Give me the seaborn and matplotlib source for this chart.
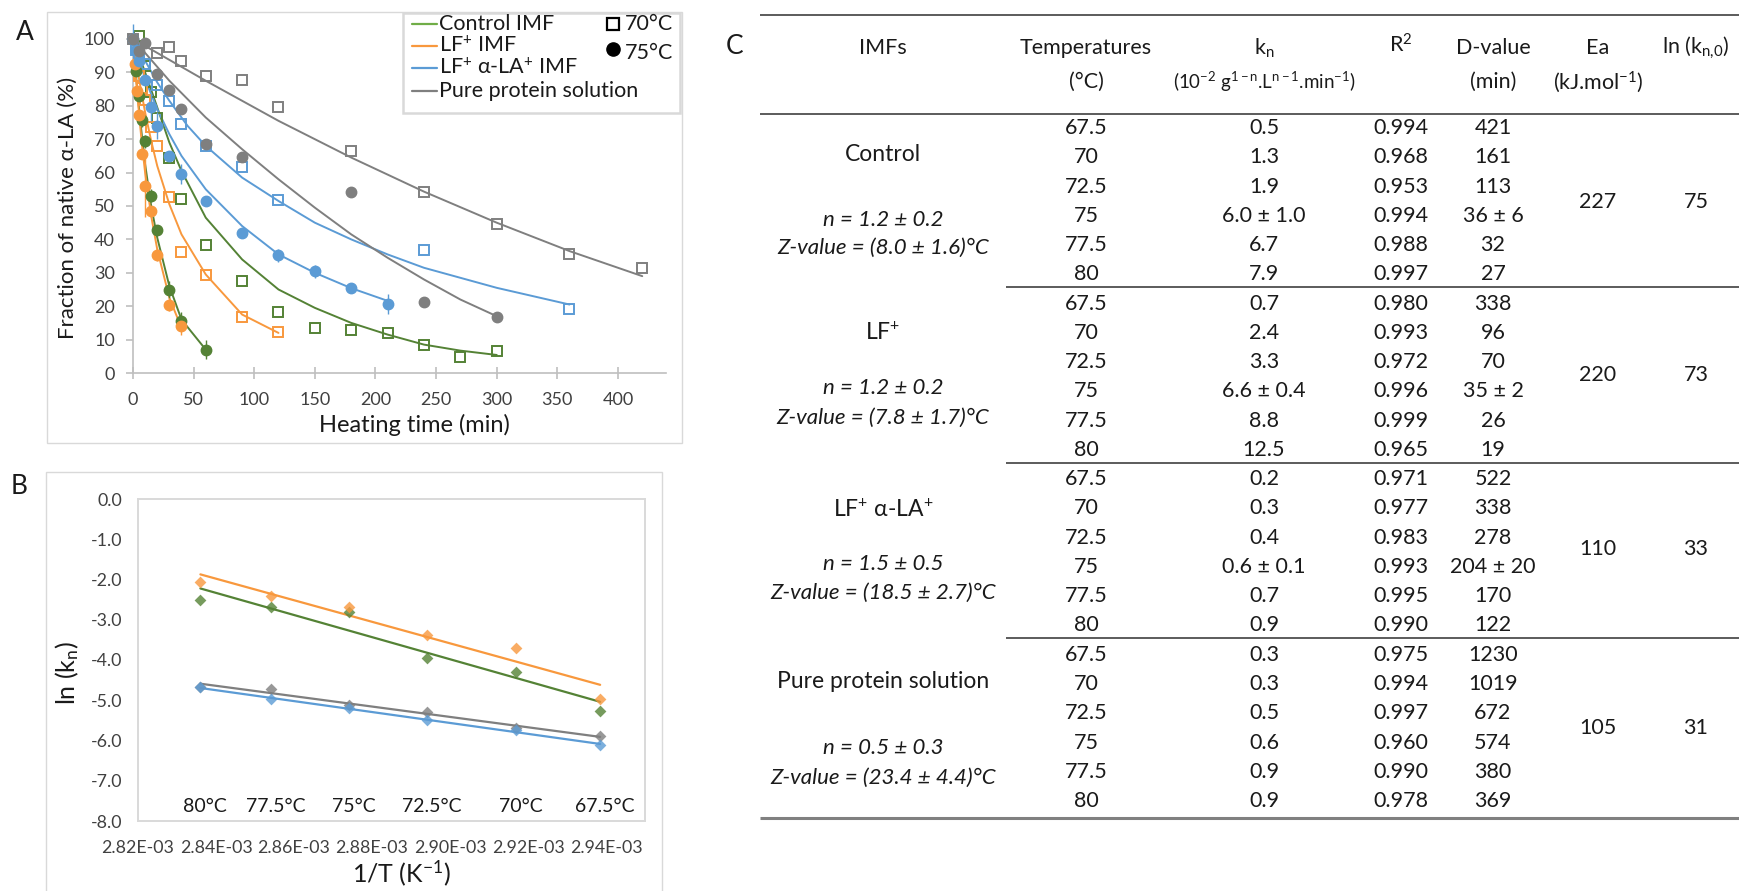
import numpy as np
import pandas as pd
import matplotlib
matplotlib.use("Agg")
import matplotlib.pyplot as plt
from matplotlib.lines import Line2D
from matplotlib.patches import Rectangle
from matplotlib.ticker import FixedLocator, FuncFormatter
import seaborn as sns

# ---------------- Panel A: native alpha-lactalbumin vs heating time ----------------
series_names = ["Control IMF", r"LF$^{\mathrm{+}}$ IMF", r"LF$^{\mathrm{+}}$ α-LA$^{\mathrm{+}}$ IMF",
                "Pure protein solution"]

# 70 °C measurements (open squares)
t_ctrl_70 = [5, 10, 15, 20, 30, 40, 60, 90, 120, 150, 180, 210, 240, 270, 300]
v_ctrl_70 = [101, 92, 84, 76.3, 64.4, 52.1, 38.2, 27.4, 18.3, 13.5, 12.8, 11.9, 8.4, 4.8, 6.6]
t_lf_70 = [5, 7.5, 10, 15, 20, 30, 40, 60, 90, 120]
v_lf_70 = [88.8, 85.3, 81.6, 73.6, 68.1, 52.6, 36.2, 29.2, 16.8, 12.2]
t_lfla_70 = [2.5, 5, 10, 20, 30, 40, 60, 90, 120, 240, 360]
v_lfla_70 = [96.8, 95, 92.6, 86.3, 81.3, 74.5, 67.9, 61.6, 51.9, 36.8, 19.1]
t_pure_70 = [0, 20, 30, 40, 60, 90, 120, 180, 240, 300, 360, 420]
v_pure_70 = [100, 95.8, 97.5, 93.5, 89.0, 87.7, 79.6, 66.6, 54.2, 44.6, 35.6, 31.4]

# 75 °C measurements (filled circles) with standard deviations
t_ctrl_75 = [2.5, 5, 7.5, 10, 15, 20, 30, 40, 60]
v_ctrl_75 = [90.3, 82.8, 75.8, 69.4, 53.1, 42.7, 25.0, 15.7, 7.0]
e_ctrl_75 = [1.0, 1.0, 2.0, 2.0, 2.0, 1.5, 2.5, 2.5, 2.8]
t_lf_75 = [1.5, 3, 5, 7.5, 10, 15, 20, 30, 40]
v_lf_75 = [92.6, 84.3, 77.3, 65.7, 56.1, 48.4, 35.4, 20.5, 14.0]
e_lf_75 = [1.0, 1.0, 1.0, 1.0, 9.3, 1.0, 2.0, 2.0, 2.5]
t_lfla_75 = [0, 2.5, 5, 10, 15, 20, 30, 40, 60, 90, 120, 150, 180, 210]
v_lfla_75 = [100, 96.7, 93.3, 87.8, 79.5, 74.1, 65.1, 59.6, 51.6, 41.9, 35.2, 30.4, 25.5, 20.7]
e_lfla_75 = [4.5, 2.0, 1.0, 1.5, 4.0, 4.0, 1.5, 3.0, 1.0, 1.0, 2.0, 2.0, 1.5, 3.0]
t_pure_75 = [0, 5, 10, 20, 30, 40, 60, 90, 180, 240, 300]
v_pure_75 = [100, 96.5, 98.8, 89.6, 84.8, 79.1, 68.5, 64.6, 54.1, 21.3, 16.8]
e_pure_75 = [0.5, 0.5, 0.5, 0.5, 0.5, 0.5, 0.5, 0.5, 0.5, 0.5, 0.5]

# Fitted nth-order inactivation curves
fit_t_ctrl_70 = [0, 10, 20, 30, 40, 60, 90, 120, 150, 180, 210, 240, 270, 300]
fit_v_ctrl_70 = [100, 90, 79.5, 69, 60.5, 46.5, 34, 25, 19.5, 15, 11.5, 8.5, 6.7, 5.4]
fit_t_ctrl_75 = [0, 2.5, 5, 7.5, 10, 15, 20, 30, 40, 60]
fit_v_ctrl_75 = [100, 89, 79, 70.5, 62.5, 50, 40.5, 26, 16, 7]
fit_t_lf_70 = [0, 5, 10, 15, 20, 30, 40, 60, 90, 120]
fit_v_lf_70 = [100, 88, 78, 69.5, 62, 50.5, 41.5, 29.5, 17.5, 12]
fit_t_lf_75 = [0, 2.5, 5, 7.5, 10, 15, 20, 30, 40]
fit_v_lf_75 = [100, 88, 77.5, 68, 60, 47, 37, 22.5, 13.5]
fit_t_lfla_70 = [0, 10, 20, 30, 45, 60, 90, 120, 150, 180, 210, 240, 300, 360]
fit_v_lfla_70 = [100, 93.5, 87, 81.5, 74, 68, 58.5, 51.5, 45, 40, 35.5, 31.5, 25.5, 20.5]
fit_t_lfla_75 = [0, 10, 20, 30, 40, 60, 90, 120, 150, 180, 210]
fit_v_lfla_75 = [100, 88, 79, 71.5, 65, 55, 44, 35.5, 30, 25.4, 21.6]
fit_t_pure_70 = [0, 60, 120, 180, 240, 300, 360, 420]
fit_v_pure_70 = [100, 87.5, 75.5, 64.5, 54.3, 45, 36.5, 29]
fit_t_pure_75 = [0, 30, 60, 90, 120, 150, 180, 210, 240, 270, 300]
fit_v_pure_75 = [100, 87.5, 76.5, 67, 58, 49.5, 41.5, 34.5, 28, 22, 17]

time_ticks = [0, 50, 100, 150, 200, 250, 300, 350, 400]
frac_ticks = [0, 10, 20, 30, 40, 50, 60, 70, 80, 90, 100]

# ---------------- Panel B: Arrhenius plot ----------------
temp_labels = ["80°C", "77.5°C", "75°C", "72.5°C", "70°C", "67.5°C"]
inv_T = [2.836e-3, 2.854e-3, 2.874e-3, 2.894e-3, 2.917e-3, 2.9385e-3]
ln_k_ctrl = [-2.52, -2.68, -2.80, -3.95, -4.30, -5.26]
ln_k_lf = [-2.05, -2.40, -2.69, -3.38, -3.71, -4.97]
ln_k_lfla = [-4.68, -4.98, -5.19, -5.50, -5.74, -6.12]
ln_k_pure = [-4.67, -4.71, -5.11, -5.29, -5.69, -5.90]
invT_ticks = [2.82e-3, 2.84e-3, 2.86e-3, 2.88e-3, 2.90e-3, 2.92e-3, 2.94e-3]
lnk_ticks = [0, -1, -2, -3, -4, -5, -6, -7, -8]

# ---------------- Panel C: kinetic parameters table ----------------
imf_groups = ["Control", r"LF$^{\mathrm{+}}$", r"LF$^{\mathrm{+}}$ α-LA$^{\mathrm{+}}$",
              "Pure protein solution"]
order_n = ["n = 1.2 ± 0.2", "n = 1.2 ± 0.2", "n = 1.5 ± 0.5", "n = 0.5 ± 0.3"]
z_values = ["Z-value = (8.0 ± 1.6)°C", "Z-value = (7.8 ± 1.7)°C",
            "Z-value = (18.5 ± 2.7)°C", "Z-value = (23.4 ± 4.4)°C"]
temps_c = ["67.5", "70", "72.5", "75", "77.5", "80"]
kn_ctrl = ["0.5", "1.3", "1.9", "6.0 ± 1.0", "6.7", "7.9"]
kn_lf = ["0.7", "2.4", "3.3", "6.6 ± 0.4", "8.8", "12.5"]
kn_lfla = ["0.2", "0.3", "0.4", "0.6 ± 0.1", "0.7", "0.9"]
kn_pure = ["0.3", "0.3", "0.5", "0.6", "0.9", "0.9"]
r2_ctrl = ["0.994", "0.968", "0.953", "0.994", "0.988", "0.997"]
r2_lf = ["0.980", "0.993", "0.972", "0.996", "0.999", "0.965"]
r2_lfla = ["0.971", "0.977", "0.983", "0.993", "0.995", "0.990"]
r2_pure = ["0.975", "0.994", "0.997", "0.960", "0.990", "0.978"]
d_ctrl = ["421", "161", "113", "36 ± 6", "32", "27"]
d_lf = ["338", "96", "70", "35 ± 2", "26", "19"]
d_lfla = ["522", "338", "278", "204 ± 20", "170", "122"]
d_pure = ["1230", "1019", "672", "574", "380", "369"]
ea_values = ["227", "220", "110", "105"]
ln_k0_values = ["75", "73", "33", "31"]

# ---------------- styling ----------------
sns.set_theme(style="white")
plt.rcParams["font.family"] = ["Lato", "DejaVu Sans"]
plt.rcParams["font.weight"] = "normal"
plt.rcParams["mathtext.fontset"] = "custom"
plt.rcParams["mathtext.rm"] = "Lato"
plt.rcParams["mathtext.it"] = "Lato:italic"
plt.rcParams["axes.unicode_minus"] = False
plt.rcParams["text.color"] = "#1a1a1a"

GREEN, GREEN_LEG = "#548235", "#70AD47"
ORANGE = "#F8983D"
BLUE = "#5B9BD5"
GRAY = "#7F7F7F"
AXIS_GRAY = "#BFBFBF"
FRAME_GRAY = "#D9D9D9"
TICK_TXT = "#404040"
TXT = "#1a1a1a"

W, H = 1740, 891
fig = plt.figure(figsize=(W / 100, H / 100), dpi=100)
fig.patch.set_facecolor("white")


def fx(x):
    return x / W


def fy(y):
    return 1 - y / H


def rect(l, t, r, b):
    return [l / W, 1 - b / H, (r - l) / W, (b - t) / H]


# panel frames
fig.add_artist(Rectangle((fx(47), fy(443)), (682 - 47) / W, (443 - 12) / H,
                         transform=fig.transFigure, fill=False, ec=FRAME_GRAY, lw=1))
fig.add_artist(Rectangle((fx(46), fy(905)), (662 - 46) / W, (905 - 472) / H,
                         transform=fig.transFigure, fill=False, ec=FRAME_GRAY, lw=1))

# ================= Panel A =================
axA = fig.add_axes(rect(133, 39, 133 + 440 * 1.2125, 373))
fits = [
    ("ctrl70", fit_t_ctrl_70, fit_v_ctrl_70, GREEN),
    ("ctrl75", fit_t_ctrl_75, fit_v_ctrl_75, GREEN),
    ("lf70", fit_t_lf_70, fit_v_lf_70, ORANGE),
    ("lf75", fit_t_lf_75, fit_v_lf_75, ORANGE),
    ("lfla70", fit_t_lfla_70, fit_v_lfla_70, BLUE),
    ("lfla75", fit_t_lfla_75, fit_v_lfla_75, BLUE),
    ("pure70", fit_t_pure_70, fit_v_pure_70, GRAY),
    ("pure75", fit_t_pure_75, fit_v_pure_75, GRAY),
]
fit_df = pd.concat([pd.DataFrame({"t": t, "v": v, "curve": name}) for name, t, v, _ in fits],
                   ignore_index=True)
sns.lineplot(data=fit_df, x="t", y="v", hue="curve",
             palette={name: c for name, _, _, c in fits},
             estimator=None, sort=False, legend=False, lw=1.4, ax=axA)

squares = [(t_ctrl_70, v_ctrl_70, GREEN), (t_lf_70, v_lf_70, ORANGE),
           (t_lfla_70, v_lfla_70, BLUE), (t_pure_70, v_pure_70, GRAY)]
circles = [(t_ctrl_75, v_ctrl_75, e_ctrl_75, GREEN), (t_lf_75, v_lf_75, e_lf_75, ORANGE),
           (t_lfla_75, v_lfla_75, e_lfla_75, BLUE), (t_pure_75, v_pure_75, e_pure_75, GRAY)]
for t, v, c in squares:
    axA.plot(t, v, ls="none", marker="s", ms=7, mfc="none", mec=c, mew=1.4,
             zorder=4, clip_on=False)
for t, v, e, c in circles:
    axA.errorbar(t, v, yerr=e, fmt="o", ms=7.5, color=c, ecolor=c, elinewidth=1,
                 capsize=0, zorder=5, clip_on=False)

axA.set_xlim(0, 440)
axA.set_ylim(0, 100)
axA.xaxis.set_major_locator(FixedLocator(time_ticks))
axA.yaxis.set_major_locator(FixedLocator(frac_ticks))
axA.xaxis.set_major_formatter(FuncFormatter(lambda v, p: f"{v:.0f}"))
axA.yaxis.set_major_formatter(FuncFormatter(lambda v, p: f"{v:.0f}"))
for s in ["top", "right"]:
    axA.spines[s].set_visible(False)
for s in ["left", "bottom"]:
    axA.spines[s].set_color(AXIS_GRAY)
    axA.spines[s].set_linewidth(1.2)
axA.tick_params(axis="x", direction="inout", length=9, width=1.2, color=AXIS_GRAY,
                labelsize=13, labelcolor=TICK_TXT, pad=9, bottom=True)
axA.tick_params(axis="y", direction="out", length=5, width=1.2, color=AXIS_GRAY,
                labelsize=13, labelcolor=TICK_TXT, pad=8, left=True)
axA.set_xlabel("")
axA.set_ylabel("")
fig.text(fx(68), fy(208), "Fraction of native α-LA (%)", rotation=90,
         ha="center", va="center", fontsize=16)
fig.text(fx(414), fy(425), "Heating time (min)", ha="center", va="center", fontsize=17)
fig.text(fx(25), fy(32), "A", ha="center", va="center", fontsize=19)

# legend of panel A
fig.add_artist(Rectangle((fx(403), fy(113)), (680 - 403) / W, (113 - 13) / H,
                         transform=fig.transFigure, fill=True, fc="white",
                         ec=FRAME_GRAY, lw=1.8, zorder=6))
leg_colors = [GREEN_LEG, ORANGE, BLUE, GRAY]
for name, c, y in zip(series_names, leg_colors, [24, 46, 68, 91]):
    fig.add_artist(Line2D([fx(412), fx(437)], [fy(y), fy(y)], color=c, lw=1.6, zorder=7))
    fig.text(fx(439), fy(y), name, ha="left", va="center", fontsize=15.5, zorder=7)
fig.add_artist(Line2D([fx(613)], [fy(24)], ls="none", marker="s", ms=9, mfc="none",
                      mec="black", mew=1.6, zorder=7))
fig.text(fx(625), fy(24), "70°C", ha="left", va="center", fontsize=15.5, zorder=7)
fig.add_artist(Line2D([fx(613)], [fy(49)], ls="none", marker="o", ms=9.5, color="black",
                      zorder=7))
fig.text(fx(625), fy(53), "75°C", ha="left", va="center", fontsize=15.5, zorder=7)

# ================= Panel B =================
axB = fig.add_axes(rect(138, 499, 645, 821))
for lnk, c in [(ln_k_pure, GRAY), (ln_k_lfla, BLUE), (ln_k_ctrl, GREEN), (ln_k_lf, ORANGE)]:
    sns.regplot(x=inv_T, y=lnk, ax=axB, ci=None, color=c, marker="D", truncate=True,
                scatter_kws=dict(s=36, linewidths=0, zorder=4),
                line_kws=dict(lw=1.6, zorder=3))
for x, lab in zip(inv_T, temp_labels):
    axB.annotate(lab, (x, -7.65), xytext=(3.5, 0), textcoords="offset points",
                 ha="center", va="center", fontsize=14, color=TXT)
axB.set_xlim(2.82e-3, 2.95e-3)
axB.set_ylim(-8, 0)
axB.xaxis.set_major_locator(FixedLocator(invT_ticks))
axB.yaxis.set_major_locator(FixedLocator(lnk_ticks))
axB.xaxis.set_major_formatter(FuncFormatter(lambda v, p: f"{v:.2E}"))
axB.yaxis.set_major_formatter(FuncFormatter(lambda v, p: f"{v:.1f}"))
for s in axB.spines.values():
    s.set_color(FRAME_GRAY)
    s.set_linewidth(1.4)
axB.tick_params(axis="both", length=0, labelsize=12.8, labelcolor=TICK_TXT)
axB.tick_params(axis="x", pad=14)
axB.tick_params(axis="y", pad=11)
axB.set_xlabel("")
axB.set_ylabel("")
fig.text(fx(67), fy(673), r"ln (k$_{\mathrm{n}}$)", rotation=90, ha="center", va="center",
         fontsize=18)
fig.text(fx(402), fy(873), r"1/T (K$^{\mathrm{-1}}$)", ha="center", va="center", fontsize=18)
fig.text(fx(19), fy(487), "B", ha="center", va="center", fontsize=19)

# ================= Panel C (table) =================
axC = fig.add_axes(rect(720, 10, 1740, 830))
axC.set_xlim(720, 1740)
axC.set_ylim(23.99, -4.033)
axC.axis("off")
fig.text(fx(735), fy(47), "C", ha="center", va="center", fontsize=19)

col = {"imf": 883, "temp": 1086, "kn": 1264, "r2": 1401, "d": 1493, "ea": 1598, "ln": 1696}
FS = 15.5
head1 = [("IMFs", "imf"), ("Temperatures", "temp"), (r"k$_{\mathrm{n}}$", "kn"),
         ("D-value", "d"), ("Ea", "ea"), (r"ln (k$_{\mathrm{n{,}0}}$)", "ln")]
for txt, key in head1:
    axC.text(col[key], -2.73, txt, ha="center", va="center", fontsize=FS)
axC.text(col["r2"], -2.85, r"R$^{\mathrm{2}}$", ha="center", va="center", fontsize=FS)
head2 = [("(°C)", "temp"),
         (r"(10$^{\mathrm{-2}}$ g$^{\mathrm{1-n}}$.L$^{\mathrm{n-1}}$.min$^{\mathrm{-1}}$)", "kn"),
         ("(min)", "d"), (r"(kJ.mol$^{\mathrm{-1}}$)", "ea")]
for txt, key in head2:
    axC.text(col[key], -1.57, txt, ha="center", va="center",
             fontsize=13.5 if key == "kn" else FS)

rule_c = "#404040"
axC.hlines(-3.86, 760, 1740, color=rule_c, lw=1.2, clip_on=False)
axC.hlines(-0.48, 760, 1740, color=rule_c, lw=1.2, clip_on=False)
for sep in [5.45, 11.45, 17.42]:
    axC.hlines(sep, 1006, 1740, color=rule_c, lw=1.2, clip_on=False)
axC.hlines(23.58, 760, 1740, color="#808080", lw=2.2, clip_on=False)

kn_all = [kn_ctrl, kn_lf, kn_lfla, kn_pure]
r2_all = [r2_ctrl, r2_lf, r2_lfla, r2_pure]
d_all = [d_ctrl, d_lf, d_lfla, d_pure]
label_row = [0.9, 7.0, 13.05, 18.93]
n_row = [3.14, 8.9, 14.9, 21.2]
z_row = [4.1, 9.9, 15.9, 22.2]
ea_row = [2.53, 8.44, 14.4, 20.5]
for g in range(4):
    for i in range(6):
        r = g * 6 + i
        axC.text(col["temp"], r, temps_c[i], ha="center", va="center", fontsize=FS)
        axC.text(col["kn"], r, kn_all[g][i], ha="center", va="center", fontsize=FS)
        axC.text(col["r2"], r, r2_all[g][i], ha="center", va="center", fontsize=FS)
        axC.text(col["d"], r, d_all[g][i], ha="center", va="center", fontsize=FS)
    axC.text(col["imf"], label_row[g], imf_groups[g], ha="center", va="center", fontsize=16.5)
    axC.text(col["imf"], n_row[g], order_n[g], ha="center", va="center", fontsize=16,
             style="italic")
    axC.text(col["imf"], z_row[g], z_values[g], ha="center", va="center", fontsize=16,
             style="italic")
    axC.text(col["ea"], ea_row[g], ea_values[g], ha="center", va="center", fontsize=FS)
    axC.text(col["ln"], ea_row[g], ln_k0_values[g], ha="center", va="center", fontsize=FS)

fig.savefig("out.png", dpi=100, facecolor="white")
